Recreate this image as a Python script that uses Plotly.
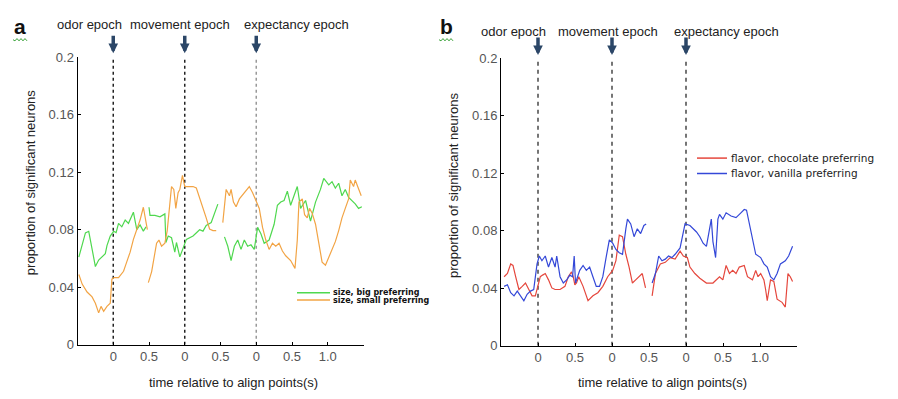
import plotly.graph_objects as go

# ---- panel a: size-preferring neurons (None marks a break between epoch windows)
t_green = [-0.481, -0.435, -0.389, -0.343, -0.296, -0.25, -0.204, -0.157, -0.111, -0.088, -0.042, 0.005,
           0.04, 0.074, 0.12, 0.167, 0.213, 0.282, 0.329, 0.375, 0.421, 0.458, None,
           0.5, 0.514, 0.583, 0.653, 0.722, 0.736, 0.769, 0.815, 0.861, 0.884, 0.931, 0.977, 1.023, 1.116,
           1.162, 1.208, 1.255, 1.30, 1.37, 1.417, 1.463, None,
           1.556, 1.602, 1.648, 1.694, 1.741, 1.787, 1.833, 1.88, 1.926, 1.972, 2.019, 2.065, 2.111, 2.18,
           2.25, 2.296, 2.343, 2.389, 2.435, 2.481, 2.528, 2.574, 2.62, 2.69, 2.759, 2.829, 2.898, 2.944,
           3.014, 3.06, 3.106, 3.153, 3.199, 3.245, 3.292, 3.338, 3.384, 3.431, 3.477]
v_green = [0.061, 0.0689, 0.0778, 0.0789, 0.0678, 0.0544, 0.0589, 0.0611, 0.0633, 0.0689, 0.0756, 0.0789,
           0.078, 0.0844, 0.082, 0.0867, 0.0844, 0.0922, 0.080, 0.0833, 0.079, 0.082, None,
           0.0956, 0.090, 0.090, 0.089, 0.091, 0.0711, 0.0756, 0.0744, 0.0644, 0.0711, 0.0611, 0.0667, 0.0733, 0.0756,
           0.078, 0.080, 0.079, 0.083, 0.085, 0.091, 0.0978, None,
           0.075, 0.0685, 0.0586, 0.0685, 0.0728, 0.0663, 0.0728, 0.0685, 0.0695, 0.0663, 0.0816, 0.0772, 0.0706, 0.0728,
           0.0838, 0.097, 0.0992, 0.1003, 0.1068, 0.097, 0.1036, 0.110, 0.0948, 0.1003, 0.086, 0.0992, 0.108, 0.1156,
           0.1112, 0.1134, 0.109, 0.1123, 0.1036, 0.108, 0.1025, 0.1003, 0.098, 0.0948, 0.0959]

t_orange = [-0.481, -0.435, -0.366, -0.296, -0.25, -0.204, -0.171, -0.134, -0.088, -0.042, -0.019, 0.014,
            0.074, 0.144, 0.19, 0.236, 0.282, 0.329, 0.375, 0.421, 0.458, 0.477, None,
            0.491, 0.537, 0.606, 0.639, 0.676, 0.722, 0.755, 0.792, 0.815, 0.847, 0.875, 0.907, 0.931, 0.968,
            1.0, 1.046, 1.116, 1.162, 1.208, 1.255, 1.30, 1.347, 1.394, 1.44, None,
            1.532, 1.556, 1.579, 1.625, 1.648, 1.681, 1.718, 1.764, 1.833, 1.903, 1.949, 1.995, 2.042, 2.088,
            2.134, 2.18, 2.227, 2.273, 2.319, 2.366, 2.412, 2.481, 2.542, 2.574, 2.597, 2.644, 2.676, 2.713,
            2.745, 2.782, 2.829, 2.875, 2.921, 2.968, 3.014, 3.06, 3.106, 3.153, 3.199, 3.245, 3.292, 3.315,
            3.361, 3.384, 3.431, 3.468]
v_orange = [0.0489, 0.0422, 0.0367, 0.0333, 0.0289, 0.0222, 0.0267, 0.0233, 0.0267, 0.0289, 0.0456, 0.0467,
            0.0467, 0.0511, 0.0578, 0.0644, 0.0733, 0.080, 0.0867, 0.0956, 0.0867, 0.080, None,
            0.0432, 0.0509, 0.0706, 0.0728, 0.0685, 0.0706, 0.0794, 0.0992, 0.110, 0.108, 0.0948, 0.1057, 0.108, 0.1178,
            0.110, 0.110, 0.110, 0.109, 0.1025, 0.0948, 0.0882, 0.0805, 0.0794, 0.0794, None,
            0.0849, 0.0948, 0.108, 0.1036, 0.108, 0.0992, 0.0959, 0.1014, 0.1057, 0.110, 0.1057, 0.1003, 0.0948, 0.0816,
            0.0728, 0.0663, 0.0706, 0.0685, 0.0706, 0.0652, 0.0619, 0.0586, 0.0531, 0.0728, 0.0992, 0.1014, 0.0904, 0.0882,
            0.0948, 0.0915, 0.0838, 0.0706, 0.0575, 0.0553, 0.0608, 0.0663, 0.0717, 0.0794, 0.0882, 0.0948, 0.1014, 0.1145,
            0.110, 0.1145, 0.108, 0.1036]

# ---- panel b: flavor-preferring neurons
t_red = [-0.458, -0.413, -0.369, -0.338, -0.302, -0.258, -0.213, -0.169, -0.124, -0.08, -0.036, 0.0,
         0.031, 0.062, 0.098, 0.142, 0.187, 0.231, 0.298, 0.364, 0.409, 0.453, 0.476, 0.498,
         0.52, 0.551, 0.609, 0.676, 0.742, 0.809, 0.876, 0.942, 1.009, 1.053, 1.098, 1.142, 1.187, 1.231,
         1.276, 1.32, 1.364, 1.409, 1.453, None,
         1.542, 1.587, 1.653, 1.72, 1.787, 1.853, 1.92, 1.964, 2.018, 2.053, 2.12, 2.187, 2.276, 2.364,
         2.453, 2.498, 2.542, 2.587, 2.631, 2.676, 2.72, 2.787, 2.831, 2.898, 2.942, 2.973, 3.009, 3.053,
         3.076, 3.098, 3.142, 3.187, 3.231, 3.298, 3.342, 3.378, 3.409, 3.44]
v_red = [0.048, 0.0502, 0.0569, 0.0558, 0.048, 0.0391, 0.0413, 0.0436, 0.0391, 0.0347, 0.0347, 0.0413,
         0.048, 0.0491, 0.0502, 0.0458, 0.0402, 0.0391, 0.0391, 0.0413, 0.048, 0.0513, 0.048, 0.0424,
         0.0436, 0.048, 0.0413, 0.0313, 0.0347, 0.0369, 0.0413, 0.048, 0.0524, 0.0591, 0.0769, 0.0758, 0.0636, 0.0547,
         0.0436, 0.0458, 0.048, 0.0502, 0.0402, None,
         0.0347, 0.0502, 0.0569, 0.058, 0.0613, 0.0602, 0.0658, 0.0624, 0.0613, 0.0547, 0.0502, 0.0469, 0.0436, 0.0436,
         0.048, 0.0458, 0.0558, 0.0502, 0.0524, 0.0502, 0.0547, 0.0558, 0.048, 0.0458, 0.0524, 0.048, 0.0502, 0.0458,
         0.0391, 0.0313, 0.0458, 0.0447, 0.0324, 0.0302, 0.0269, 0.0502, 0.048, 0.0447]

t_blue = [-0.458, -0.413, -0.369, -0.324, -0.28, -0.236, -0.191, -0.147, -0.102, -0.058, -0.013, 0.018,
          0.053, 0.098, 0.142, 0.187, 0.231, 0.253, 0.298, 0.342, 0.387, 0.431, 0.467, 0.489, 0.507,
          0.564, 0.609, 0.653, 0.698, 0.742, 0.787, 0.831, 0.876, 0.92, 0.964, 1.009, 1.053, 1.098, 1.142,
          1.187, 1.209, 1.253, 1.298, 1.342, 1.387, 1.431, 1.462, None,
          1.542, 1.587, 1.631, 1.676, 1.72, 1.764, 1.809, 1.853, 1.92, 1.956, 1.987, 2.053, 2.098, 2.142,
          2.187, 2.231, 2.276, 2.32, 2.342, 2.364, 2.4, 2.431, 2.453, 2.498, 2.542, 2.609, 2.676, 2.742,
          2.787, 2.818, 2.853, 2.898, 2.942, 3.009, 3.053, 3.098, 3.142, 3.187, 3.231, 3.276, 3.342, 3.387, 3.44]
v_blue = [0.0413, 0.0424, 0.0369, 0.0347, 0.038, 0.0347, 0.0313, 0.0358, 0.038, 0.0391, 0.0569, 0.0624,
          0.0591, 0.0624, 0.0547, 0.0613, 0.0547, 0.0624, 0.048, 0.0436, 0.0458, 0.0491, 0.048, 0.0624, 0.0436,
          0.0524, 0.0558, 0.0524, 0.0547, 0.048, 0.0413, 0.0413, 0.048, 0.0613, 0.0736, 0.0713, 0.0669, 0.0647, 0.0636,
          0.0813, 0.088, 0.0847, 0.0758, 0.0813, 0.078, 0.0836, 0.0847, None,
          0.0436, 0.0502, 0.0624, 0.0591, 0.0602, 0.0624, 0.0613, 0.0636, 0.068, 0.0769, 0.0847, 0.0836, 0.0813, 0.0791,
          0.0758, 0.0713, 0.0691, 0.0836, 0.088, 0.0724, 0.0613, 0.088, 0.0913, 0.088, 0.0924, 0.0902, 0.0891, 0.0924,
          0.0947, 0.0942, 0.0858, 0.0747, 0.0636, 0.0613, 0.0569, 0.0547, 0.048, 0.0458, 0.0502, 0.0569, 0.0591, 0.0624, 0.0691]

# ---- axis ticks and labels
x_tickvals = [0, 0.5, 1, 1.5, 2, 2.5, 3]
x_ticktext = ["0", "0.5", "0", "0.5", "0", "0.5", "1.0"]
y_tickvals = [0, 0.04, 0.08, 0.12, 0.16, 0.2]
y_ticktext = ["0", "0.04", "0.08", "0.12", "0.16", "0.2"]
align_points = [0, 1, 2]
epoch_names = ["odor epoch", "movement epoch", "expectancy epoch"]
legend_a = ["size, big preferring", "size, small preferring"]
legend_b = ["flavor, chocolate preferring", "flavor, vanilla preferring"]

GREEN = "#4fd84f"
ORANGE = "#f2a445"
RED = "#e5473d"
BLUE = "#3448d8"
ARROW = "#2b4667"
FONT = "Liberation Sans, Arial, sans-serif"
KEYFONT = "DejaVu Sans, Verdana, sans-serif"

W, H = 898, 399


def px(x):
    return x / W


def py(y):
    return 1 - y / H


fig = go.Figure()
for t, v, c, xa, ya in [(t_green, v_green, GREEN, "x", "y"), (t_orange, v_orange, ORANGE, "x", "y"),
                        (t_red, v_red, RED, "x2", "y2"), (t_blue, v_blue, BLUE, "x2", "y2")]:
    fig.add_trace(go.Scatter(x=t, y=v, mode="lines", line=dict(color=c, width=1.2),
                             xaxis=xa, yaxis=ya, showlegend=False, hoverinfo="skip"))

tickfont = dict(family=FONT, size=13, color="#555")
axis_common = dict(showline=True, linecolor="black", linewidth=1, ticks="inside", ticklen=3,
                   tickcolor="black", showgrid=False, zeroline=False, tickfont=tickfont, mirror=False)

fig.update_layout(
    width=W, height=H, margin=dict(l=0, r=0, t=0, b=0),
    paper_bgcolor="white", plot_bgcolor="white",
    xaxis=dict(domain=[px(77.5), px(363.5)], range=[-0.5, 3.5], tickvals=x_tickvals, ticktext=x_ticktext,
               anchor="y", **axis_common),
    yaxis=dict(domain=[py(351), py(52)], range=[0, 0.2], tickvals=y_tickvals, ticktext=y_ticktext,
               anchor="x", **axis_common),
    xaxis2=dict(domain=[px(501), px(797)], range=[-0.5, 3.5], tickvals=x_tickvals, ticktext=x_ticktext,
                anchor="y2", **axis_common),
    yaxis2=dict(domain=[py(352), py(53)], range=[0, 0.2], tickvals=y_tickvals, ticktext=y_ticktext,
                anchor="x2", **axis_common),
)

shapes = []
annotations = []
dash_colors_a = ["#222", "#222", "#999"]
for i, t0 in enumerate(align_points):
    shapes.append(dict(type="line", xref="x", yref="y", x0=t0, x1=t0, y0=0, y1=0.2,
                       line=dict(color=dash_colors_a[i], width=1.5, dash="3px,3px"), layer="below"))
    shapes.append(dict(type="line", xref="x2", yref="y2", x0=t0, x1=t0, y0=0, y1=0.2,
                       line=dict(color="#666", width=1.8, dash="4px,4px"), layer="below"))
    for xr, tip in [("x", 48), ("x2", 50)]:
        annotations.append(dict(xref=xr, yref="paper", x=t0, y=py(tip), text="", showarrow=True,
                                ax=0, ay=-19, arrowhead=2, arrowsize=0.55, arrowwidth=3.5, arrowcolor=ARROW))

txt = dict(family=FONT, color="#222")
for name, xa, xb in zip(epoch_names, [89, 180, 296], [513, 608, 726]):
    annotations.append(dict(xref="paper", yref="paper", x=px(xa), y=py(18), text=name, showarrow=False,
                            font=dict(size=13, **txt), xanchor="center", yanchor="middle"))
    annotations.append(dict(xref="paper", yref="paper", x=px(xb), y=py(25), text=name, showarrow=False,
                            font=dict(size=13, **txt), xanchor="center", yanchor="middle"))

# panel letters
for letter, lx in [("a", 20), ("b", 446)]:
    annotations.append(dict(xref="paper", yref="paper", x=px(lx), y=py(20), text="<b>%s</b>" % letter,
                            showarrow=False, font=dict(size=21, family=FONT, color="#111"),
                            xanchor="center", yanchor="middle"))
# green wavy underline beneath each letter
for x0 in [13, 439]:
    path = "M%.4f,%.4f " % (px(x0), py(34)) + " ".join(
        "L%.4f,%.4f" % (px(x0 + 2 * k), py(34 + (1.2 if k % 2 else -1.2))) for k in range(1, 8))
    shapes.append(dict(type="path", xref="paper", yref="paper", path=path, line=dict(color="#3aa33a", width=1)))

# axis titles
for xc, yc in [(30, 182), (453, 185)]:
    annotations.append(dict(xref="paper", yref="paper", x=px(xc), y=py(yc),
                            text="proportion of significant neurons", textangle=-90, showarrow=False,
                            font=dict(size=13, **txt), xanchor="center", yanchor="middle"))
for xc in [233, 662]:
    annotations.append(dict(xref="paper", yref="paper", x=px(xc), y=py(390),
                            text="time relative to align points(s)", showarrow=False,
                            font=dict(size=13, **txt), xanchor="center", yanchor="middle"))

# legend keys
for label, col, yy in zip(legend_a, [GREEN, ORANGE], [297, 304.5]):
    shapes.append(dict(type="line", xref="paper", yref="paper", x0=px(297), x1=px(330), y0=py(yy), y1=py(yy),
                       line=dict(color=col, width=1.5)))
    annotations.append(dict(xref="paper", yref="paper", x=px(331), y=py(yy), text="<b>%s</b>" % label,
                            showarrow=False, font=dict(family=KEYFONT, size=8, color="#111"),
                            xanchor="left", yanchor="middle"))
for label, col, yy in zip(legend_b, [RED, BLUE], [157, 173]):
    shapes.append(dict(type="line", xref="paper", yref="paper", x0=px(697), x1=px(727), y0=py(yy), y1=py(yy),
                       line=dict(color=col, width=1.5)))
    annotations.append(dict(xref="paper", yref="paper", x=px(729), y=py(yy), text=label,
                            showarrow=False, font=dict(family=KEYFONT, size=10.5, color="#222"),
                            xanchor="left", yanchor="middle"))

fig.update_layout(shapes=shapes, annotations=annotations)
fig.write_html("out.html")
